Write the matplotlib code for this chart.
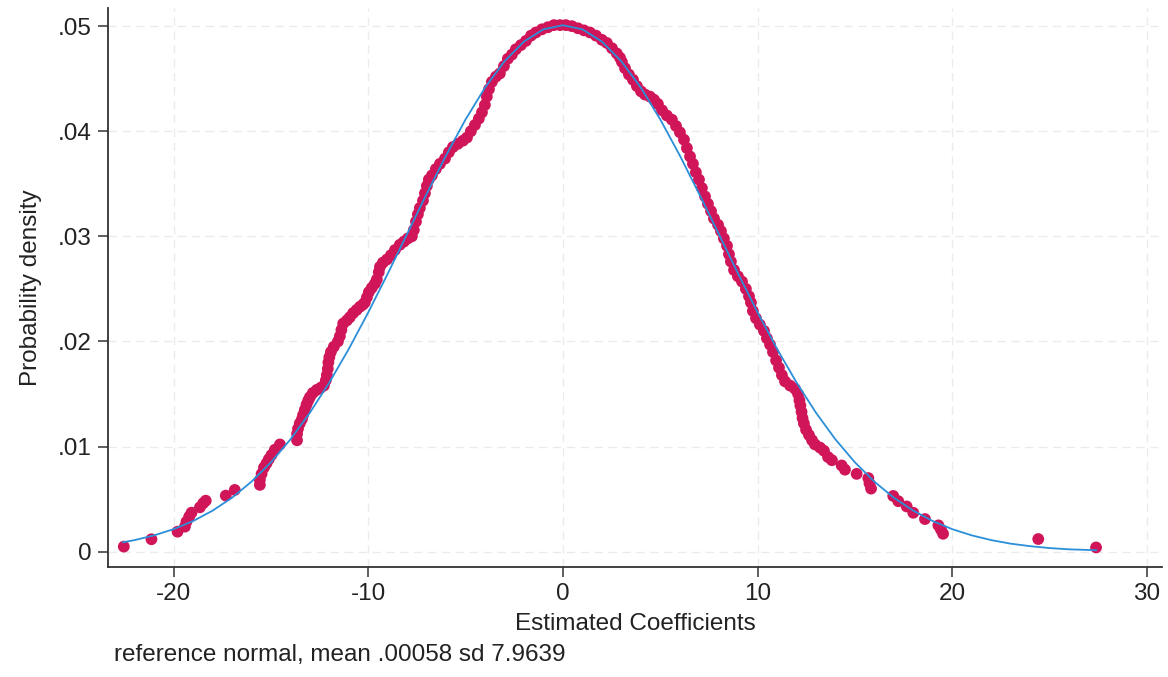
import matplotlib
matplotlib.use('Agg')
import matplotlib.pyplot as plt

plt.rcParams['font.family'] = ['Liberation Sans', 'DejaVu Sans']
plt.rcParams['axes.unicode_minus'] = False

# kernel density estimate at each coefficient
coef = [-22.56, -21.14, -19.80, -19.42, -19.34, -19.20, -19.08, -18.65, -18.48, -18.35,
        -17.32, -16.86,
        -15.57, -15.57, -15.48, -15.36, -15.23, -15.11, -14.97, -14.80, -14.54,
        -13.66, -13.66, -13.61, -13.52, -13.41, -13.35, -13.26, -13.17, -13.08, -13.00,
        -12.85, -12.64, -12.44, -12.28, -12.18, -12.13, -12.08, -12.05, -12.00, -11.92,
        -11.77, -11.56, -11.46, -11.38, -11.29, -11.10, -10.95, -10.78, -10.60, -10.43,
        -10.28, -10.18, -10.07, -9.97, -9.82, -9.66, -9.56, -9.46, -9.40, -9.25,
        -9.04, -8.84, -8.63, -8.38, -8.17, -7.97, -7.76, -7.66, -7.55, -7.45,
        -7.35, -7.19, -7.09, -6.99, -6.89, -6.73, -6.53, -6.32, -6.06, -5.86,
        -5.65, -5.40, -5.14, -4.93, -4.73, -4.52, -4.32, -4.16, -4.01, -3.91,
        -3.80, -3.65, -3.44, -3.24, -3.03, -2.83, -2.62, -2.42, -2.16, -1.90,
        -1.64, -1.39, -1.08, -0.77, -0.46, -0.15, 0.15, 0.46, 0.77, 1.08,
        1.39, 1.70, 2.00, 2.26, 2.52, 2.77, 2.93, 3.03, 3.19, 3.39,
        3.60, 3.80, 4.01, 4.21, 4.47, 4.68, 4.88, 5.09, 5.34, 5.60,
        5.81, 6.01, 6.22, 6.37, 6.53, 6.68, 6.83, 6.99, 7.14, 7.30,
        7.45, 7.61, 7.76, 7.97, 8.12, 8.27, 8.43, 8.53, 8.63, 8.79,
        8.99, 9.20, 9.40, 9.56, 9.66, 9.76, 9.92, 10.12, 10.33, 10.48,
        10.64, 10.79, 10.95, 11.10, 11.25, 11.41, 11.67, 11.92, 12.08, 12.15,
        12.20, 12.26, 12.31, 12.38, 12.49, 12.64, 12.80, 12.95, 13.21, 13.41,
        13.62, 13.82, 14.32, 14.49, 15.09, 15.69, 15.75, 15.83, 16.97, 17.23,
        17.66, 18.00, 18.60, 19.29, 19.42, 19.53, 24.42, 27.39]
density = [0.00048, 0.00118, 0.00190, 0.00238, 0.00285, 0.00333, 0.00371, 0.00422, 0.00461, 0.00485,
           0.00533, 0.00587,
           0.00635, 0.00682, 0.0074, 0.0080, 0.0084, 0.0088, 0.0092, 0.0097, 0.0102,
           0.0106, 0.0112, 0.0117, 0.0122, 0.0126, 0.0130, 0.0135, 0.0140, 0.0144, 0.0147,
           0.0151, 0.0154, 0.0156, 0.0158, 0.0163, 0.0168, 0.0174, 0.0180, 0.0185, 0.0190,
           0.0195, 0.0200, 0.0205, 0.0211, 0.0217, 0.0220, 0.0223, 0.0227, 0.0230, 0.0233,
           0.0235, 0.0237, 0.0242, 0.0247, 0.0251, 0.0255, 0.0259, 0.0266, 0.0271, 0.0275,
           0.0278, 0.0282, 0.0287, 0.0292, 0.0295, 0.0298, 0.0300, 0.0306, 0.0314, 0.0321,
           0.0327, 0.0334, 0.0341, 0.0348, 0.0354, 0.0358, 0.0364, 0.0369, 0.0374, 0.0380,
           0.0385, 0.0388, 0.0391, 0.0394, 0.0400, 0.0406, 0.0412, 0.0418, 0.0425, 0.0433,
           0.0440, 0.0447, 0.0452, 0.0455, 0.0462, 0.0469, 0.0473, 0.0478, 0.0482, 0.0486,
           0.0491, 0.0494, 0.0497, 0.0499, 0.0501, 0.0501, 0.0501, 0.0500, 0.0498, 0.0496,
           0.0494, 0.0491, 0.0487, 0.0484, 0.0479, 0.0474, 0.0470, 0.0466, 0.0460, 0.0454,
           0.0449, 0.0443, 0.0438, 0.0435, 0.0433, 0.0430, 0.0426, 0.0420, 0.0415, 0.0411,
           0.0405, 0.0399, 0.0392, 0.0384, 0.0376, 0.0369, 0.0361, 0.0354, 0.0346, 0.0338,
           0.0331, 0.0324, 0.0317, 0.0311, 0.0305, 0.0298, 0.0291, 0.0283, 0.0276, 0.0268,
           0.0262, 0.0257, 0.0250, 0.0243, 0.0237, 0.0229, 0.0222, 0.0216, 0.0210, 0.0203,
           0.0197, 0.0190, 0.0182, 0.0175, 0.0168, 0.0162, 0.0158, 0.0155, 0.0150, 0.0144,
           0.0139, 0.0133, 0.0127, 0.0122, 0.0116, 0.0111, 0.0106, 0.0102, 0.0099, 0.0096,
           0.0090, 0.0087, 0.0082, 0.0078, 0.0074, 0.0070, 0.0065, 0.0060, 0.0053, 0.0048,
           0.0043, 0.0037, 0.0031, 0.0025, 0.0021, 0.0017, 0.0012, 0.0004]

# reference normal curve as drawn
norm_x = [-22.6, -22, -21, -20, -19, -18, -17, -16, -15, -14, -13, -12, -11, -10, -9, -8,
          -7, -6, -5, -4, -3, -2, -1, 0, 1, 2, 3, 4, 5, 6, 7, 8, 9, 10, 11, 12, 13,
          14, 15, 16, 17, 18, 19, 20, 21, 22, 23, 24, 25, 26, 27, 27.4]
norm_y = [0.00089, 0.00110, 0.00155, 0.00214, 0.00291, 0.00390, 0.00513, 0.00666, 0.00850,
          0.01068, 0.01322, 0.01610, 0.01929, 0.02277, 0.02645, 0.03025, 0.03404, 0.03771,
          0.04113, 0.04416, 0.04666, 0.04854, 0.04970, 0.05009, 0.04970, 0.04854, 0.04666,
          0.04416, 0.04113, 0.03771, 0.03404, 0.03025, 0.02645, 0.02277, 0.01929, 0.01610,
          0.01322, 0.01068, 0.00850, 0.00666, 0.00513, 0.00390, 0.00291, 0.00214, 0.00155,
          0.00110, 0.00076, 0.00052, 0.00034, 0.00022, 0.00016, 0.00013]

xticks = [-20, -10, 0, 10, 20, 30]
yticks = [0, 0.01, 0.02, 0.03, 0.04, 0.05]
ytick_labels = ['0', '.01', '.02', '.03', '.04', '.05']

fig = plt.figure(figsize=(11.68, 6.77), dpi=100)
ax = fig.add_axes([0.0925, 0.1625, 0.9024, 0.8257])

ax.scatter(coef, density, s=72, color='#D01559', edgecolors='none', zorder=3)
ax.plot(norm_x, norm_y, color='#2A8FD8', lw=1.3, zorder=4)

ax.set_xlim(-23.37, 30.78)
ax.set_ylim(-0.00146, 0.05173)
ax.set_xticks(xticks)
ax.set_yticks(yticks)
ax.set_yticklabels(ytick_labels)
ax.tick_params(labelsize=17.5, length=7.5, width=1.1, color='#333333',
               labelcolor='#222222', pad=4)
ax.grid(True, color='#ebebeb', linestyle=(0, (6, 4)), lw=1.0)
ax.set_axisbelow(True)
for s in ['top', 'right']:
    ax.spines[s].set_visible(False)
for s in ['left', 'bottom']:
    ax.spines[s].set_color('#333333')
    ax.spines[s].set_linewidth(1.3)

ax.set_xlabel('Estimated Coefficients', fontsize=17.5, labelpad=6, color='#222222')
ax.set_ylabel('Probability density', fontsize=17.5, labelpad=12, color='#222222')
fig.text(114/1168, 1 - 655/677, 'reference normal, mean .00058 sd 7.9639',
         fontsize=17.5, va='center', ha='left', color='#222222')

fig.savefig('out.png', dpi=100)
